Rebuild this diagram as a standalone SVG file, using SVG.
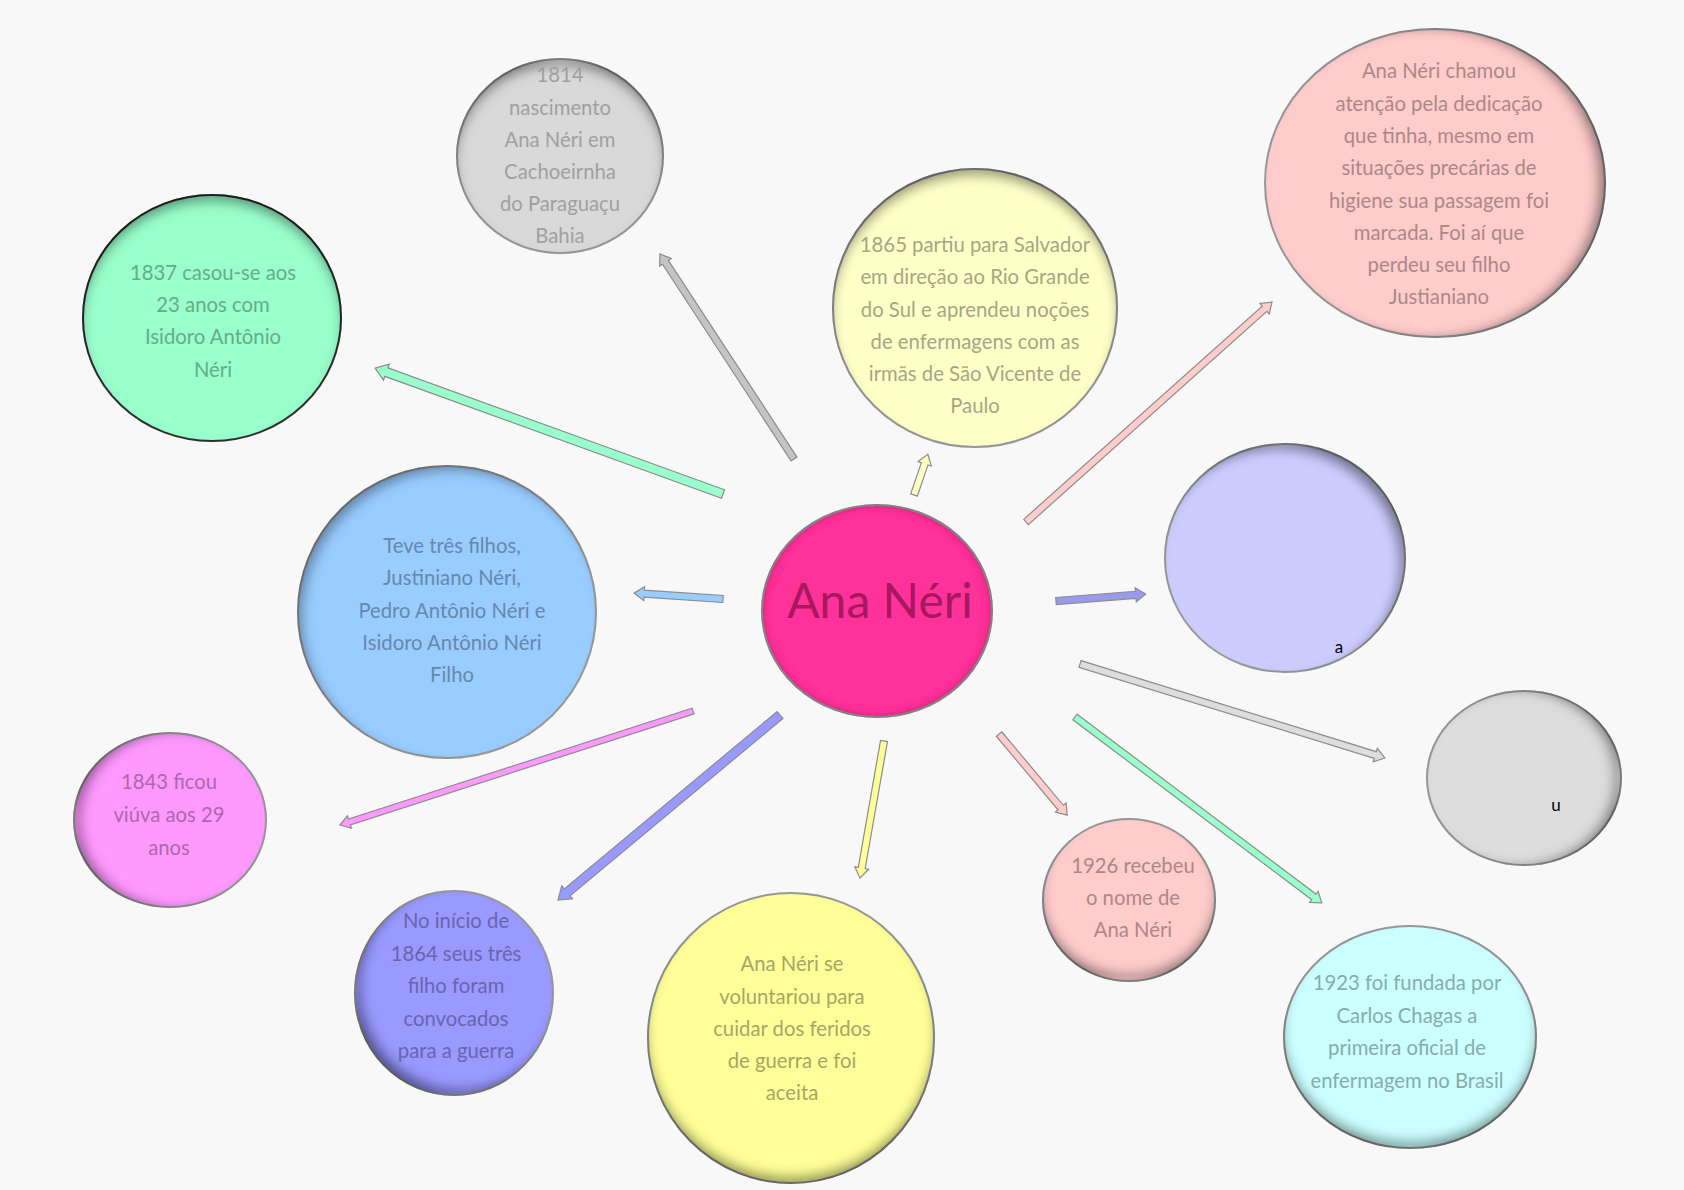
<svg xmlns="http://www.w3.org/2000/svg" width="1684" height="1190" viewBox="0 0 1684 1190">
<defs>
<style>
.n{stroke:#9a9a9a;stroke-width:2}
.t{font-family:Lato,"Liberation Sans",sans-serif;font-size:20.3px;text-anchor:middle}
.a{stroke:#8c8c8c;stroke-width:1.2}
</style>
<filter id="sT" x="-5%" y="-5%" width="110%" height="110%"><feComponentTransfer in="SourceAlpha"><feFuncA type="table" tableValues="1 0"/></feComponentTransfer><feGaussianBlur stdDeviation="6"/><feOffset dx="0" dy="8" result="o"/><feFlood flood-color="#000" flood-opacity="0.7"/><feComposite in2="o" operator="in"/><feComposite in2="SourceAlpha" operator="in" result="s"/><feMerge><feMergeNode in="SourceGraphic"/><feMergeNode in="s"/></feMerge></filter>
<filter id="sR" x="-5%" y="-5%" width="110%" height="110%"><feComponentTransfer in="SourceAlpha"><feFuncA type="table" tableValues="1 0"/></feComponentTransfer><feGaussianBlur stdDeviation="6"/><feOffset dx="-8" dy="0" result="o"/><feFlood flood-color="#000" flood-opacity="0.7"/><feComposite in2="o" operator="in"/><feComposite in2="SourceAlpha" operator="in" result="s"/><feMerge><feMergeNode in="SourceGraphic"/><feMergeNode in="s"/></feMerge></filter>
<filter id="sB" x="-5%" y="-5%" width="110%" height="110%"><feComponentTransfer in="SourceAlpha"><feFuncA type="table" tableValues="1 0"/></feComponentTransfer><feGaussianBlur stdDeviation="6"/><feOffset dx="0" dy="-8" result="o"/><feFlood flood-color="#000" flood-opacity="0.7"/><feComposite in2="o" operator="in"/><feComposite in2="SourceAlpha" operator="in" result="s"/><feMerge><feMergeNode in="SourceGraphic"/><feMergeNode in="s"/></feMerge></filter>
<filter id="sL" x="-5%" y="-5%" width="110%" height="110%"><feComponentTransfer in="SourceAlpha"><feFuncA type="table" tableValues="1 0"/></feComponentTransfer><feGaussianBlur stdDeviation="6"/><feOffset dx="8" dy="0" result="o"/><feFlood flood-color="#000" flood-opacity="0.7"/><feComposite in2="o" operator="in"/><feComposite in2="SourceAlpha" operator="in" result="s"/><feMerge><feMergeNode in="SourceGraphic"/><feMergeNode in="s"/></feMerge></filter>
<filter id="sTR" x="-5%" y="-5%" width="110%" height="110%"><feComponentTransfer in="SourceAlpha"><feFuncA type="table" tableValues="1 0"/></feComponentTransfer><feGaussianBlur stdDeviation="6"/><feOffset dx="-7" dy="7" result="o"/><feFlood flood-color="#000" flood-opacity="0.7"/><feComposite in2="o" operator="in"/><feComposite in2="SourceAlpha" operator="in" result="s"/><feMerge><feMergeNode in="SourceGraphic"/><feMergeNode in="s"/></feMerge></filter>
<filter id="sTL" x="-5%" y="-5%" width="110%" height="110%"><feComponentTransfer in="SourceAlpha"><feFuncA type="table" tableValues="1 0"/></feComponentTransfer><feGaussianBlur stdDeviation="6"/><feOffset dx="6" dy="6" result="o"/><feFlood flood-color="#000" flood-opacity="0.6"/><feComposite in2="o" operator="in"/><feComposite in2="SourceAlpha" operator="in" result="s"/><feMerge><feMergeNode in="SourceGraphic"/><feMergeNode in="s"/></feMerge></filter>
<filter id="sBL" x="-5%" y="-5%" width="110%" height="110%"><feComponentTransfer in="SourceAlpha"><feFuncA type="table" tableValues="1 0"/></feComponentTransfer><feGaussianBlur stdDeviation="6"/><feOffset dx="7" dy="-7" result="o"/><feFlood flood-color="#000" flood-opacity="0.7"/><feComposite in2="o" operator="in"/><feComposite in2="SourceAlpha" operator="in" result="s"/><feMerge><feMergeNode in="SourceGraphic"/><feMergeNode in="s"/></feMerge></filter>
<filter id="sA" x="-5%" y="-5%" width="110%" height="110%"><feComponentTransfer in="SourceAlpha"><feFuncA type="table" tableValues="1 0"/></feComponentTransfer><feGaussianBlur stdDeviation="5"/><feOffset dx="0" dy="0" result="o"/><feFlood flood-color="#000" flood-opacity="0.7"/><feComposite in2="o" operator="in"/><feComposite in2="SourceAlpha" operator="in" result="s"/><feMerge><feMergeNode in="SourceGraphic"/><feMergeNode in="s"/></feMerge></filter>
</defs>
<rect width="1684" height="1190" fill="#f8f8f8"/>

<g id="connectors">
<path class="a" fill="#c4c4c4" transform="translate(794,459) rotate(-123.17)" d="M0,-3.5 L235,-3.5 L235,-7 L245,0 L235,7 L235,3.5 L0,3.5 Z"/>
<path class="a" fill="#99ffcc" transform="translate(723,494) rotate(-160.1)" d="M0,-4.5 L358,-4.5 L358,-8.5 L370,0 L358,8.5 L358,4.5 L0,4.5 Z"/>
<path class="a" fill="#ffffc5" transform="translate(914,495) rotate(-71.15)" d="M0,-3.5 L33,-3.5 L33,-7 L43,0 L33,7 L33,3.5 L0,3.5 Z"/>
<path class="a" fill="#ffcccc" transform="translate(1026,522) rotate(-41.8)" d="M0,-3.5 L320,-3.5 L320,-7 L330,0 L320,7 L320,3.5 L0,3.5 Z"/>
<path class="a" fill="#99ccff" transform="translate(723,599) rotate(-176.14)" d="M0,-3.5 L79,-3.5 L79,-7 L89,0 L79,7 L79,3.5 L0,3.5 Z"/>
<path class="a" fill="#9999ee" transform="translate(1056,601) rotate(-4.45)" d="M0,-3.5 L80,-3.5 L80,-7 L90,0 L80,7 L80,3.5 L0,3.5 Z"/>
<path class="a" fill="#dddddd" transform="translate(1080,664) rotate(17.13)" d="M0,-3.5 L309,-3.5 L309,-7 L319,0 L309,7 L309,3.5 L0,3.5 Z"/>
<path class="a" fill="#ff99ff" transform="translate(693,711) rotate(162.1)" d="M0,-3 L361,-3 L361,-6.5 L371,0 L361,6.5 L361,3 L0,3 Z"/>
<path class="a" fill="#9999ff" transform="translate(780,715) rotate(140.2)" d="M0,-4.5 L277,-4.5 L277,-8.5 L289,0 L277,8.5 L277,4.5 L0,4.5 Z"/>
<path class="a" fill="#ffff99" transform="translate(884,741) rotate(99.94)" d="M0,-3.5 L129,-3.5 L129,-7 L139,0 L129,7 L129,3.5 L0,3.5 Z"/>
<path class="a" fill="#ffcccc" transform="translate(999,734) rotate(49.99)" d="M0,-3.5 L96,-3.5 L96,-7 L106,0 L96,7 L96,3.5 L0,3.5 Z"/>
<path class="a" fill="#99ffcc" transform="translate(1075,717) rotate(36.98)" d="M0,-3.5 L299,-3.5 L299,-7 L309,0 L299,7 L299,3.5 L0,3.5 Z"/>
</g>

<g id="n1814">
<ellipse class="n" cx="560" cy="156" rx="103" ry="97" fill="#d9d9d9" filter="url(#sT)"/>
<text class="t" fill="#a0a0a0"><tspan x="560" y="82">1814</tspan><tspan x="560" y="115">nascimento</tspan><tspan x="560" y="147">Ana Néri em</tspan><tspan x="560" y="179">Cachoeirnha</tspan><tspan x="560" y="211">do Paraguaçu</tspan><tspan x="560" y="243">Bahia</tspan></text>
</g>

<g id="n1837">
<ellipse cx="212" cy="318" rx="129" ry="123" fill="#99ffcc" stroke="#333" stroke-width="2" filter="url(#sT)"/>
<text class="t" fill="#68ab88"><tspan x="213" y="280">1837 casou-se aos</tspan><tspan x="213" y="312">23 anos com</tspan><tspan x="213" y="344">Isidoro Antônio</tspan><tspan x="213" y="377">Néri</tspan></text>
</g>

<g id="n1865">
<ellipse class="n" cx="975" cy="308" rx="142" ry="139" fill="#ffffc8" filter="url(#sT)"/>
<text class="t" fill="#a6a685"><tspan x="975" y="252">1865 partiu para Salvador</tspan><tspan x="975" y="284">em direção ao Rio Grande</tspan><tspan x="975" y="317">do Sul e aprendeu noções</tspan><tspan x="975" y="349">de enfermagens com as</tspan><tspan x="975" y="381">irmãs de São Vicente de</tspan><tspan x="975" y="413">Paulo</tspan></text>
</g>

<g id="nDedicacao">
<ellipse class="n" cx="1435" cy="183" rx="170" ry="154" fill="#ffcccc" filter="url(#sR)"/>
<text class="t" fill="#ab8888"><tspan x="1439" y="78">Ana Néri chamou</tspan><tspan x="1439" y="111">atenção pela dedicação</tspan><tspan x="1439" y="143">que tinha, mesmo em</tspan><tspan x="1439" y="175">situações precárias de</tspan><tspan x="1439" y="208">higiene sua passagem foi</tspan><tspan x="1439" y="240">marcada. Foi aí que</tspan><tspan x="1439" y="272">perdeu seu filho</tspan><tspan x="1439" y="304">Justianiano</tspan></text>
</g>

<g id="nFilhos">
<ellipse class="n" cx="447" cy="612" rx="149" ry="146" fill="#99ccff" filter="url(#sTL)"/>
<text class="t" fill="#6688ab"><tspan x="452" y="553">Teve três filhos,</tspan><tspan x="452" y="585">Justiniano Néri,</tspan><tspan x="452" y="618">Pedro Antônio Néri e</tspan><tspan x="452" y="650">Isidoro Antônio Néri</tspan><tspan x="452" y="682">Filho</tspan></text>
</g>

<g id="nCentro">
<ellipse class="n" cx="877" cy="611" rx="115" ry="106" fill="#ff3399" filter="url(#sA)"/>
<text x="880" y="618" font-family="Lato,'Liberation Sans',sans-serif" font-size="48" text-anchor="middle" fill="#a8175f">Ana Néri</text>
</g>

<g id="nA">
<ellipse class="n" cx="1285" cy="558" rx="120" ry="114" fill="#ccccff" filter="url(#sTR)"/>
<text x="1339" y="653" font-family="Lato,'Liberation Sans',sans-serif" font-size="17" text-anchor="middle" fill="#000">a</text>
</g>

<g id="nU">
<ellipse class="n" cx="1524" cy="778" rx="97" ry="87" fill="#dddddd" filter="url(#sR)"/>
<text x="1556" y="811" font-family="Lato,'Liberation Sans',sans-serif" font-size="17" text-anchor="middle" fill="#000">u</text>
</g>

<g id="n1843">
<ellipse class="n" cx="170" cy="820" rx="96" ry="87" fill="#ff99ff" filter="url(#sL)"/>
<text class="t" fill="#ab68ab"><tspan x="169" y="789">1843 ficou</tspan><tspan x="169" y="822">viúva aos 29</tspan><tspan x="169" y="855">anos</tspan></text>
</g>

<g id="n1864">
<ellipse class="n" cx="454" cy="993" rx="99" ry="102" fill="#9999ff" filter="url(#sBL)"/>
<text class="t" fill="#6666ab"><tspan x="456" y="928">No início de</tspan><tspan x="456" y="961">1864 seus três</tspan><tspan x="456" y="993">filho foram</tspan><tspan x="456" y="1026">convocados</tspan><tspan x="456" y="1058">para a guerra</tspan></text>
</g>

<g id="nVoluntaria">
<ellipse class="n" cx="791" cy="1038" rx="143" ry="145" fill="#ffff99" filter="url(#sB)"/>
<text class="t" fill="#a6a666"><tspan x="792" y="971">Ana Néri se</tspan><tspan x="792" y="1004">voluntariou para</tspan><tspan x="792" y="1036">cuidar dos feridos</tspan><tspan x="792" y="1068">de guerra e foi</tspan><tspan x="792" y="1100">aceita</tspan></text>
</g>

<g id="n1926">
<ellipse class="n" cx="1129" cy="900" rx="86" ry="81" fill="#ffcccc" filter="url(#sB)"/>
<text class="t" fill="#ab8888"><tspan x="1133" y="873">1926 recebeu</tspan><tspan x="1133" y="905">o nome de</tspan><tspan x="1133" y="937">Ana Néri</tspan></text>
</g>

<g id="n1923">
<ellipse class="n" cx="1410" cy="1037" rx="126" ry="111" fill="#ccffff" filter="url(#sB)"/>
<text class="t" fill="#88abab"><tspan x="1407" y="990">1923 foi fundada por</tspan><tspan x="1407" y="1023">Carlos Chagas a</tspan><tspan x="1407" y="1055">primeira oficial de</tspan><tspan x="1407" y="1088">enfermagem no Brasil</tspan></text>
</g>
</svg>
